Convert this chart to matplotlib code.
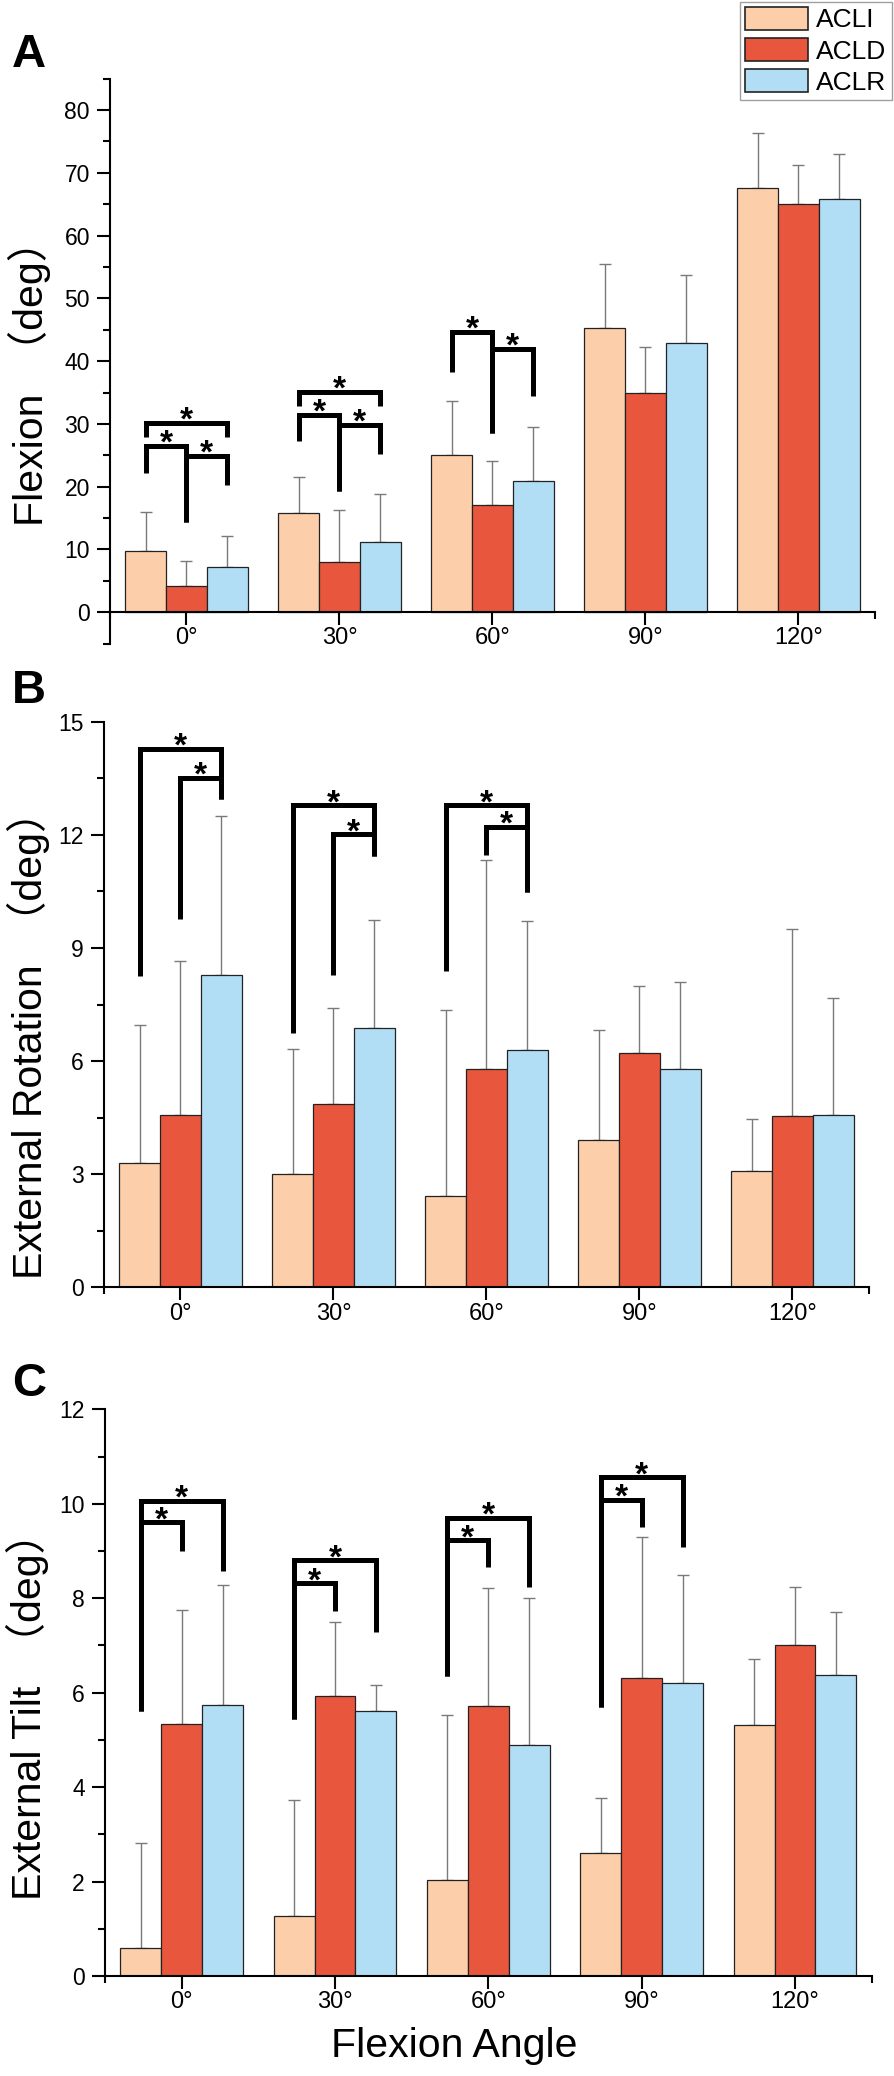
import numpy as np
import matplotlib
matplotlib.use('Agg')
import matplotlib.pyplot as plt
from matplotlib.ticker import MultipleLocator, FixedLocator
from matplotlib.patches import Patch

plt.rcParams['font.family'] = ['Liberation Sans', 'Noto Sans CJK SC', 'DejaVu Sans']

# categories
angles = ['0°', '30°', '60°', '90°', '120°']
groups = ['ACLI', 'ACLD', 'ACLR']
colors = ['#FDCEAA', '#E8573D', '#B2DEF5']

# A: flexion (mean, sd)
flex_acli = [9.7, 15.8, 25.0, 45.2, 67.6]
flex_acli_sd = [6.3, 5.7, 8.6, 10.3, 8.7]
flex_acld = [4.2, 8.0, 17.1, 34.9, 65.0]
flex_acld_sd = [4.0, 8.3, 7.0, 7.4, 6.3]
flex_aclr = [7.15, 11.25, 20.9, 42.9, 65.8]
flex_aclr_sd = [5.0, 7.5, 8.6, 10.9, 7.2]

# B: external rotation
rot_acli = [3.29, 3.0, 2.43, 3.92, 3.09]
rot_acli_sd = [3.67, 3.33, 4.92, 2.9, 1.37]
rot_acld = [4.56, 4.87, 5.8, 6.22, 4.55]
rot_acld_sd = [4.1, 2.55, 5.53, 1.77, 4.96]
rot_aclr = [8.29, 6.87, 6.3, 5.78, 4.58]
rot_aclr_sd = [4.2, 2.87, 3.42, 2.33, 3.09]

# C: external tilt
tilt_acli = [0.60, 1.27, 2.04, 2.61, 5.32]
tilt_acli_sd = [2.21, 2.45, 3.48, 1.15, 1.39]
tilt_acld = [5.34, 5.92, 5.71, 6.32, 7.02]
tilt_acld_sd = [2.41, 1.58, 2.51, 2.98, 1.21]
tilt_aclr = [5.74, 5.62, 4.90, 6.20, 6.37]
tilt_aclr_sd = [2.55, 0.55, 3.1, 2.3, 1.34]

# significance brackets: (angle index, bar i, bar j, top, left leg end, right leg end)
flex_sig = [(0, 0, 2, 30.2, 27.9, 27.9), (0, 0, 1, 26.5, 22.1, 14.3), (0, 1, 2, 24.9, 14.3, 20.2),
            (1, 0, 2, 35.1, 32.8, 32.8), (1, 0, 1, 31.4, 27.2, 19.3), (1, 1, 2, 29.9, 19.3, 25.2),
            (2, 0, 1, 44.7, 38.2, 28.5), (2, 1, 2, 41.95, 28.5, 34.5)]
rot_sig = [(0, 0, 2, 14.29, 8.26, 12.94), (0, 1, 2, 13.51, 9.77, 12.94),
           (1, 0, 2, 12.79, 6.75, 11.43), (1, 1, 2, 12.02, 8.29, 11.43),
           (2, 0, 2, 12.79, 8.38, 10.48), (2, 1, 2, 12.22, 11.48, 10.48)]
tilt_sig = [(0, 0, 2, 10.06, 5.62, 8.58), (0, 0, 1, 9.61, 5.62, 9.0),
            (1, 0, 2, 8.80, 5.44, 7.29), (1, 0, 1, 8.32, 5.44, 7.72),
            (2, 0, 2, 9.71, 6.36, 8.23), (2, 0, 1, 9.23, 6.36, 8.67),
            (3, 0, 2, 10.56, 5.70, 9.08), (3, 0, 1, 10.09, 5.70, 9.51)]

W = 0.2667
x = np.arange(len(angles))

fig = plt.figure(figsize=(8.94, 20.76), dpi=100)


def panel(rect, means, sds, sig, ylim, major, minor_ticks, ylabel, lab_xy):
    ax = fig.add_axes(rect)
    for k in range(3):
        xs = x + (k - 1) * W
        ax.bar(xs, means[k], W, color=colors[k], edgecolor='#222222', linewidth=0.9, zorder=2)
        ax.errorbar(xs, means[k], yerr=[np.zeros(len(x)), sds[k]], fmt='none',
                    ecolor='#7a7a7a', elinewidth=1.0, capsize=4.2, capthick=1.0, zorder=1)
    for g, i, j, top, lb, rb in sig:
        x1 = g + (i - 1) * W
        x2 = g + (j - 1) * W
        ax.plot([x1, x1, x2, x2], [lb, top, top, rb], color='black', lw=3.6,
                solid_joinstyle='miter', solid_capstyle='butt', zorder=3)
        ax.annotate('*', xy=((x1 + x2) / 2, top), xytext=(0, -5), textcoords='offset points',
                    ha='center', va='baseline', fontsize=24, fontweight='bold')
    ax.set_xlim(-0.5, 4.5)
    ax.set_ylim(*ylim)
    for s in ['top', 'right']:
        ax.spines[s].set_visible(False)
    ax.spines['left'].set_linewidth(1.5)
    ax.spines['bottom'].set_linewidth(1.5)
    ax.spines['bottom'].set_position(('data', 0))
    ax.set_xticks(x)
    ax.set_xticklabels(angles, fontsize=17)
    ax.xaxis.set_minor_locator(FixedLocator([-0.5, 4.5]))
    ax.yaxis.set_major_locator(MultipleLocator(major))
    ax.yaxis.set_minor_locator(FixedLocator(minor_ticks))
    ax.tick_params(axis='x', which='major', direction='out', length=9, width=1.5, pad=2)
    ax.tick_params(axis='x', which='minor', direction='out', length=5, width=1.5)
    ax.tick_params(axis='y', which='major', direction='out', length=9.4, width=1.5, pad=5, labelsize=16.5)
    ax.tick_params(axis='y', which='minor', direction='out', length=5, width=1.5)
    ax.set_ylabel(ylabel, fontsize=29.5)
    ax.yaxis.set_label_coords(*lab_xy)
    return ax


axA = panel([0.1230, 0.6900, 0.8557, 0.2721],
            [flex_acli, flex_acld, flex_aclr], [flex_acli_sd, flex_acld_sd, flex_aclr_sd],
            flex_sig, (-5, 85), 10, np.arange(-5, 86, 10), 'Flexion  （deg）', (-0.077, 0.478))
axB = panel([0.1163, 0.3799, 0.8557, 0.2724],
            [rot_acli, rot_acld, rot_aclr], [rot_acli_sd, rot_acld_sd, rot_aclr_sd],
            rot_sig, (0, 15), 3, np.arange(1.5, 15, 3), 'External Rotation  （deg）', (-0.071, 0.447))
axC = panel([0.1174, 0.0482, 0.8576, 0.2729],
            [tilt_acli, tilt_acld, tilt_aclr], [tilt_acli_sd, tilt_acld_sd, tilt_aclr_sd],
            tilt_sig, (0, 12), 2, np.arange(1, 12, 2), 'External Tilt  （deg）', (-0.073, 0.477))
axC.set_xlabel('Flexion Angle', fontsize=29.5)
axC.xaxis.set_label_coords(0.456, -0.09)

for lab, yb in zip(['A', 'B', 'C'], [0.9676, 0.6616, 0.3276]):
    fig.text(0.0134, yb, lab, fontsize=34, fontweight='bold', ha='left', va='baseline')

handles = [Patch(facecolor=c, edgecolor='#222222', linewidth=1.2) for c in colors]
leg = fig.legend(handles, groups, loc='upper right', bbox_to_anchor=(891.7 / 894, 1 - 1.7 / 2076),
                 bbox_transform=fig.transFigure, fontsize=19, frameon=True, fancybox=False,
                 handlelength=2.4, handleheight=0.95, handletextpad=0.3, labelspacing=0.22,
                 borderpad=0.2, borderaxespad=0)
leg.get_frame().set_edgecolor('#888888')
leg.get_frame().set_linewidth(1.0)

fig.savefig('out.png', dpi=100)
